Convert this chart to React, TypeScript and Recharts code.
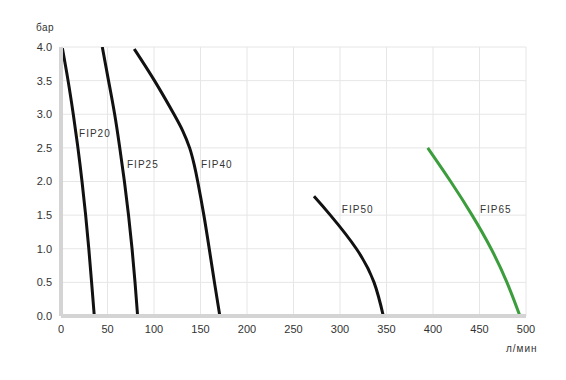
import { LineChart, Line, XAxis, YAxis, CartesianGrid, ReferenceDot } from 'recharts'

// Q, л/мин (x) — P, бар (y)
const fip20 = [
  { q: 1.5, p: 3.98 },
  { q: 7.6, p: 3.5 },
  { q: 13.2, p: 3.0 },
  { q: 18.2, p: 2.5 },
  { q: 22.6, p: 2.0 },
  { q: 26.5, p: 1.5 },
  { q: 29.9, p: 1.0 },
  { q: 32.9, p: 0.5 },
  { q: 35.8, p: 0 },
]
const fip25 = [
  { q: 44.4, p: 4.0 },
  { q: 51.1, p: 3.5 },
  { q: 57.7, p: 3.0 },
  { q: 63.2, p: 2.5 },
  { q: 68.2, p: 2.0 },
  { q: 72.6, p: 1.5 },
  { q: 76.4, p: 1.0 },
  { q: 79.6, p: 0.5 },
  { q: 82.4, p: 0 },
]
const fip40 = [
  { q: 78.8, p: 3.97 },
  { q: 100.5, p: 3.5 },
  { q: 121.5, p: 3.0 },
  { q: 131, p: 2.75 },
  { q: 138.3, p: 2.5 },
  { q: 143.2, p: 2.25 },
  { q: 147, p: 2.0 },
  { q: 153.6, p: 1.5 },
  { q: 159.4, p: 1.0 },
  { q: 165, p: 0.5 },
  { q: 170.8, p: 0 },
]
const fip50 = [
  { q: 272, p: 1.78 },
  { q: 289.6, p: 1.5 },
  { q: 317.6, p: 1.0 },
  { q: 336.6, p: 0.5 },
  { q: 346.6, p: 0 },
]
const fip65 = [
  { q: 394.3, p: 2.5 },
  { q: 419, p: 2.0 },
  { q: 442, p: 1.5 },
  { q: 462.5, p: 1.0 },
  { q: 479.5, p: 0.5 },
  { q: 493.5, p: 0 },
]

const series = [
  { name: 'FIP20', data: fip20, color: '#111111' },
  { name: 'FIP25', data: fip25, color: '#111111' },
  { name: 'FIP40', data: fip40, color: '#111111' },
  { name: 'FIP50', data: fip50, color: '#111111' },
  { name: 'FIP65', data: fip65, color: '#3c9d3c' },
]

// позиции подписей кривых
const curveLabels = [
  { name: 'FIP20', q: 19.4, p: 2.72 },
  { name: 'FIP25', q: 71, p: 2.25 },
  { name: 'FIP40', q: 150.5, p: 2.25 },
  { name: 'FIP50', q: 302, p: 1.59 },
  { name: 'FIP65', q: 450.5, p: 1.59 },
]

const xTicks = [0, 50, 100, 150, 200, 250, 300, 350, 400, 450, 500]
const yTicks = [0, 0.5, 1, 1.5, 2, 2.5, 3, 3.5, 4]

const font = 'Arial, "Liberation Sans", sans-serif'

export default function App() {
  return (
    <div style={{ position: 'absolute', left: 0, top: 0, width: 566, height: 380, background: '#fff', fontFamily: font }}>
      <LineChart width={566} height={380} margin={{ top: 47, right: 40, bottom: 34, left: 0 }}>
        <CartesianGrid stroke="#e6e6e6" strokeWidth={1} />
        <XAxis
          type="number"
          dataKey="q"
          domain={[0, 500]}
          ticks={xTicks}
          height={30}
          tickLine={false}
          tickSize={7}
          axisLine={{ stroke: '#d4d4d4', strokeWidth: 4 }}
          tick={{ fontSize: 11, fill: '#333', fontFamily: font }}
          allowDataOverflow
        />
        <YAxis
          type="number"
          dataKey="p"
          domain={[0, 4]}
          ticks={yTicks}
          width={61}
          tickLine={false}
          tickSize={7}
          axisLine={{ stroke: '#d4d4d4', strokeWidth: 4 }}
          tick={{ fontSize: 11, fill: '#333', fontFamily: font }}
          tickFormatter={(v: number) => v.toFixed(1)}
          allowDataOverflow
        />
        {series.map((s) => (
          <Line
            key={s.name}
            data={s.data}
            dataKey="p"
            type="natural"
            stroke={s.color}
            strokeWidth={3}
            dot={false}
            activeDot={false}
            isAnimationActive={false}
          />
        ))}
        {curveLabels.map((l) => (
          <ReferenceDot
            key={l.name}
            x={l.q}
            y={l.p}
            r={0}
            fill="none"
            stroke="none"
            label={{
              value: l.name,
              position: 'right',
              offset: 0,
              fontSize: 10,
              fill: '#333',
              letterSpacing: 1,
              fontFamily: font,
            }}
          />
        ))}
      </LineChart>
      <div style={{ position: 'absolute', left: 36, top: 22, fontSize: 10, color: '#333', letterSpacing: 0.5 }}>бар</div>
      <div style={{ position: 'absolute', left: 506, top: 343, fontSize: 10, color: '#333', letterSpacing: 1 }}>л/мин</div>
    </div>
  )
}
